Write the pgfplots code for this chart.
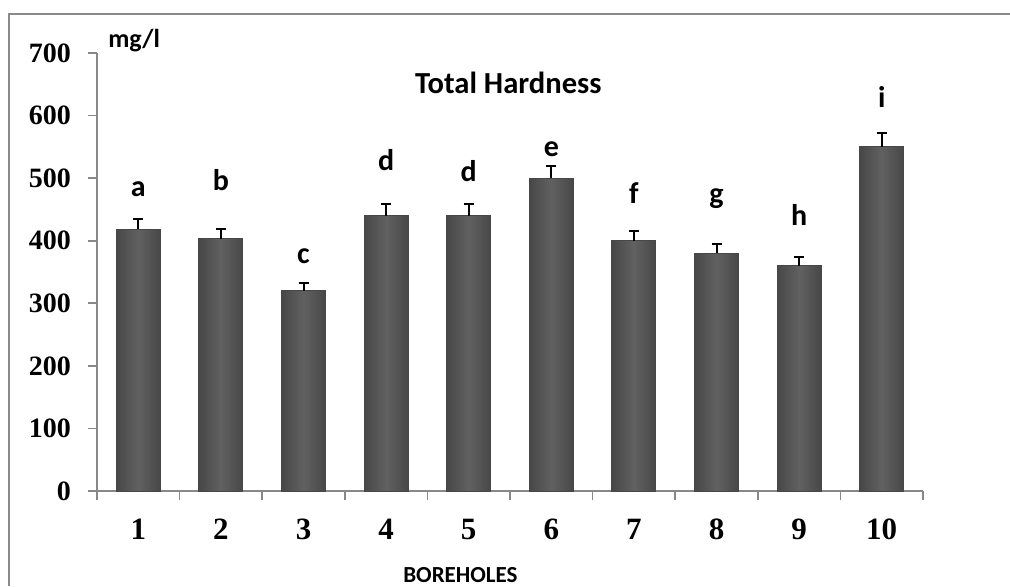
\documentclass[border=0pt]{standalone}
\usepackage{pgfplots}
\pgfplotsset{compat=1.18}
\usepackage{pgfplotstable}
\usepackage{fontspec}
\setmainfont{Liberation Serif}
\newfontfamily\calfont{Carlito}
\definecolor{axgray}{HTML}{888888}
\definecolor{framegray}{HTML}{8A8A8A}
\pgfplotstableread{
x y e
1 418 17
2 403 16
3 320 13
4 440 18
5 440 18
6 500 20
7 400 16
8 380 14
9 360 14
10 550 22
}\datatable
\begin{document}
\begin{tikzpicture}[x=1pt,y=1pt]
\useasboundingbox (0,0) rectangle (505,293);
\draw[framegray, line width=1pt] (4.5,0) -- (4.5,286) -- (505,286);
\begin{axis}[
  at={(48.5pt,47.5pt)}, anchor=south west,
  scale only axis, width=413pt, height=219pt,
  xmin=0.5, xmax=10.5, ymin=0, ymax=700,
  axis x line*=bottom, axis y line*=left,
  axis line style={-, axgray, line width=0.8pt},
  ytick={0,100,...,700},
  xtick={1,...,10},
  minor xtick={0.5,1.5,...,10.5},
  major x tick style={draw=none},
  tick align=outside,
  major tick length=4.5pt, minor tick length=4.5pt,
  tick style={axgray, line width=0.8pt},
  /pgf/number format/assume math mode=true,
  yticklabel style={font=\fontsize{14}{16}\selectfont\bfseries, xshift=-5pt},
  xticklabel style={font=\fontsize{15.5}{17}\selectfont\bfseries, yshift=-6pt},
  clip=false,
]
\pgfplotsinvokeforeach{1,...,10}{
\addplot[ybar, bar width=22pt, draw=black!72, line width=0.5pt,
  left color=black!72, right color=black!72, middle color=black!62,
  restrict x to domain=#1:#1]
  table[x=x, y=y] {\datatable};
}
\addplot[draw=none, mark=none, forget plot,
  error bars/.cd, y dir=plus, y explicit,
  error bar style={black, line width=1pt},
  error mark options={rotate=90, mark size=2.5pt, black, line width=1pt}]
  table[x=x, y=y, y error=e] {\datatable};
\begin{scope}[every node/.style={font=\calfont\bfseries\fontsize{15}{17}\selectfont, anchor=base}]
\node at (axis cs:1,471) {a};
\node at (axis cs:2,481) {b};
\node at (axis cs:3,363) {c};
\node at (axis cs:4,513) {d};
\node at (axis cs:5,494) {d};
\node at (axis cs:6,534) {e};
\node at (axis cs:7,460) {f};
\node at (axis cs:8,460) {g};
\node at (axis cs:9,425) {h};
\node at (axis cs:10,613) {i};
\end{scope}
\node[font=\calfont\bfseries\fontsize{15.3}{17}\selectfont] at (axis cs:5.48,653) {Total Hardness};
\node[font=\calfont\bfseries\fontsize{13}{15}\selectfont] at (axis cs:0.95,720) {mg/l};
\node[font=\calfont\bfseries\fontsize{11.5}{13}\selectfont] at (axis cs:4.9,-134) {BOREHOLES};
\end{axis}
\end{tikzpicture}
\end{document}
